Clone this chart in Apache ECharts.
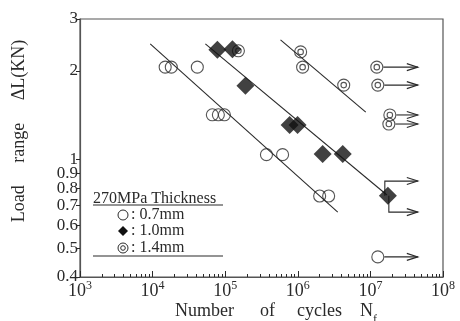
<!DOCTYPE html>
<html><head><meta charset="utf-8">
<script src="https://cdn.jsdelivr.net/npm/echarts@6/dist/echarts.min.js"></script>
<style>html,body{margin:0;padding:0;background:#fff}#c{width:460px;height:321px}</style>
</head><body><div id="c"></div>
<script>
// ---- data (N cycles, load range kN) ----
const circle07 = [[14900,2.06],[18100,2.06],[41300,2.06],[66500,1.42],[80500,1.42],[97500,1.42],[370000,1.04],[617000,1.04],[2.0e6,0.753],[2.66e6,0.753],[1.265e7,0.468]];
const diamond10 = [[78000,2.36],[125700,2.37],[190000,1.78],[771000,1.31],[993000,1.31],[2.2e6,1.045],[4.16e6,1.045],[1.74e7,0.755]];
const double14 = [[152000,2.34],[1.094e6,2.32],[1.165e6,2.06],[4.29e6,1.79],[1.225e7,2.06],[1.265e7,1.79],[1.853e7,1.418],[1.795e7,1.321]];
const fit07 = [[9270,2.47],[3.55e6,0.664]];
const fit10 = [[53300,2.47],[1.69e7,0.759]];
const fit14 = [[578000,2.55],[8.63e6,1.45]];
const runouts = [
  [[1.225e7,2.06],[4.5e7,2.06]],
  [[1.265e7,1.79],[4.5e7,1.79]],
  [[1.853e7,1.418],[4.5e7,1.418]],
  [[1.795e7,1.321],[4.5e7,1.321]],
  [[1.265e7,0.468],[4.5e7,0.468]],
  [[1.58e7,0.755],[1.58e7,0.846],[4.5e7,0.846]],
  [[1.795e7,0.755],[1.795e7,0.664],[4.5e7,0.664]]
];
const xMajorTicks = [1e3,1e4,1e5,1e6,1e7,1e8];
const xMinorTicks = [];
[1e3,1e4,1e5,1e6,1e7].forEach(d => { for (let k = 2; k <= 9; k++) xMinorTicks.push(d * k); });
const yTicks = [0.4,0.5,0.6,0.7,0.8,0.9,1,2,3];
const legendTitle = '270MPa Thickness';
const legendLabels = [': 0.7mm', ': 1.0mm', ': 1.4mm'];

const INK = '#2a2a2a';
const SERIF = '"Liberation Serif","DejaVu Serif",serif';
const dblPath = 'path://M12,0A12,12,0,1,1,12,24A12,12,0,1,1,12,0ZM12,6.5A5.5,5.5,0,1,1,12,17.5A5.5,5.5,0,1,1,12,6.5Z';

const chart = echarts.init(document.getElementById('c'));
const lineStyle = {color: INK, width: 1.1};
function fitSeries(d){ return {type:'line', data:d, symbol:'none', lineStyle, z:2, silent:true}; }

const option = {
  animation: false,
  grid: {left: 80, right: 17, top: 19, bottom: 44, show: true, borderColor: '#555', borderWidth: 1.2},
  xAxis: [{
    type: 'log', logBase: 10, min: 1e3, max: 1e8,
    axisLine: {lineStyle: {color: '#555', width: 1.2}},
    axisTick: {inside: true, length: 6, customValues: xMajorTicks, lineStyle: {color: INK}},
    axisLabel: {customValues: xMajorTicks, margin: 3,
      formatter: v => '{b|10}{s|' + Math.round(Math.log10(v)) + '}',
      rich: {b: {fontFamily: SERIF, fontSize: 18, color: INK, lineHeight: 20, verticalAlign: 'bottom'},
             s: {fontFamily: SERIF, fontSize: 12, color: INK, lineHeight: 12, verticalAlign: 'top'}}},
    splitLine: {show: false}
  }, {
    type: 'log', logBase: 10, min: 1e3, max: 1e8, position: 'bottom',
    axisLine: {show: false},
    axisTick: {inside: true, length: 3, customValues: xMinorTicks, lineStyle: {color: INK}},
    axisLabel: {show: false}, splitLine: {show: false}
  }],
  yAxis: {
    type: 'log', logBase: 10, min: 0.4, max: 3,
    axisLine: {show: true, lineStyle: {color: '#555', width: 1.2}},
    axisTick: {show: true, inside: false, length: 4, customValues: yTicks, lineStyle: {color: INK}},
    axisLabel: {customValues: yTicks, margin: 2, fontFamily: SERIF, fontSize: 17, color: INK,
      formatter: v => String(Math.round(v * 10) / 10)},
    splitLine: {show: false}
  },
  series: [
    fitSeries(fit07), fitSeries(fit10), fitSeries(fit14),
    {type: 'custom', z: 3, silent: true,
     data: runouts.map(r => r[0]),
     renderItem: (params, api) => {
       const pts = runouts[params.dataIndex].map(p => api.coord(p));
       if (Math.abs(pts[0][1] - pts[1][1]) < 0.5) pts[0] = [pts[0][0] + 6.5, pts[0][1]];
       const tip = pts[pts.length - 1];
       return {type: 'group', children: [
         {type: 'polyline', shape: {points: pts}, style: {stroke: INK, lineWidth: 1.1, fill: null}},
         {type: 'polyline', shape: {points: [[tip[0] - 11, tip[1] - 3.5], tip, [tip[0] - 11, tip[1] + 3.5]]}, style: {stroke: INK, lineWidth: 1.1, fill: null}}
       ]};
     }},
    {type: 'scatter', data: circle07, symbol: 'circle', symbolSize: 12, z: 4,
     itemStyle: {color: 'rgba(255,255,255,0)', borderColor: INK, borderWidth: 1.1}},
    {type: 'scatter', data: double14, symbol: dblPath, symbolSize: 12, z: 4,
     itemStyle: {color: 'rgba(255,255,255,0)', borderColor: INK, borderWidth: 1.1}},
    {type: 'scatter', data: diamond10, symbol: 'diamond', symbolSize: 18, z: 5,
     itemStyle: {color: '#111', borderColor: '#111', borderWidth: 0}}
  ],
  graphic: [
    {type: 'text', left: 93, top: 191, style: {text: legendTitle, font: '16px ' + SERIF, fill: INK}},
    {type: 'line', shape: {x1: 93, y1: 205, x2: 223, y2: 205}, style: {stroke: INK, lineWidth: 1.2}},
    {type: 'line', shape: {x1: 93, y1: 256, x2: 223, y2: 256}, style: {stroke: INK, lineWidth: 1.2}},
    {type: 'circle', shape: {cx: 123, cy: 215, r: 5}, style: {stroke: INK, fill: 'none', lineWidth: 1}},
    {type: 'polygon', shape: {points: [[123, 226], [128, 231], [123, 236], [118, 231]]}, style: {fill: '#111'}},
    {type: 'circle', shape: {cx: 123, cy: 248, r: 5}, style: {stroke: INK, fill: 'none', lineWidth: 1}},
    {type: 'circle', shape: {cx: 123, cy: 248, r: 2.3}, style: {stroke: INK, fill: 'none', lineWidth: 1}},
    {type: 'text', left: 131, top: 207, style: {text: legendLabels[0], font: '16px ' + SERIF, fill: INK}},
    {type: 'text', left: 131, top: 223, style: {text: legendLabels[1], font: '16px ' + SERIF, fill: INK}},
    {type: 'text', left: 131, top: 240, style: {text: legendLabels[2], font: '16px ' + SERIF, fill: INK}},
    // x axis title
    {type: 'text', left: 175, top: 302, style: {text: 'Number', font: '18px ' + SERIF, fill: INK}},
    {type: 'text', left: 260, top: 302, style: {text: 'of', font: '18px ' + SERIF, fill: INK}},
    {type: 'text', left: 297, top: 302, style: {text: 'cycles', font: '18px ' + SERIF, fill: INK}},
    {type: 'text', left: 360, top: 302, style: {text: '{n|N}{f|f}', rich: {n: {font: '18px ' + SERIF, fill: INK, lineHeight: 20, verticalAlign: 'top'}, f: {font: '12px ' + SERIF, fill: INK, lineHeight: 24, verticalAlign: 'bottom'}}}},
    // y axis title
    {type: 'text', x: 19, y: 131, rotation: Math.PI / 2,
     style: {text: 'Load     range     \u0394L(KN)', font: '18px ' + SERIF, fill: INK, align: 'center', verticalAlign: 'middle'}}
  ]
};
chart.setOption(option);
</script></body></html>
